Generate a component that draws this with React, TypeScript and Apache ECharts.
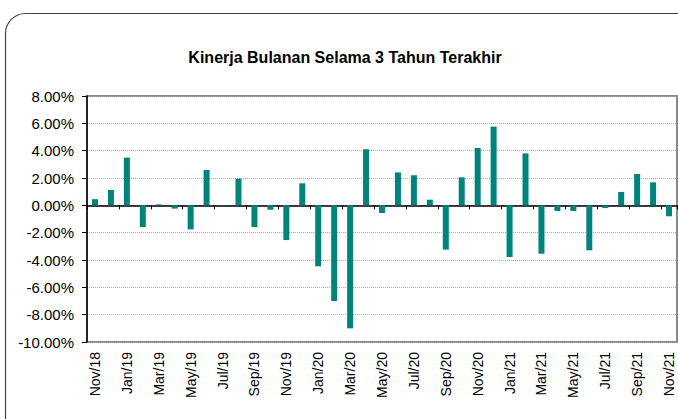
import React, { useEffect, useRef } from "react";
import * as echarts from "echarts";

const months = [
  "Nov/18", "Dec/18", "Jan/19", "Feb/19", "Mar/19", "Apr/19", "May/19", "Jun/19", "Jul/19", "Aug/19",
  "Sep/19", "Oct/19", "Nov/19", "Dec/19", "Jan/20", "Feb/20", "Mar/20", "Apr/20", "May/20", "Jun/20",
  "Jul/20", "Aug/20", "Sep/20", "Oct/20", "Nov/20", "Dec/20", "Jan/21", "Feb/21", "Mar/21", "Apr/21",
  "May/21", "Jun/21", "Jul/21", "Aug/21", "Sep/21", "Oct/21", "Nov/21",
];

const returns = [
  0.45, 1.12, 3.49, -1.59, 0.07, -0.24, -1.76, 2.59, 0.02, 1.95,
  -1.59, -0.32, -2.54, 1.61, -4.46, -7.0, -9.0, 4.1, -0.56, 2.41,
  2.2, 0.41, -3.24, 2.05, 4.2, 5.76, -3.78, 3.8, -3.54, -0.41,
  -0.41, -3.29, -0.2, 0.98, 2.29, 1.68, -0.8,
];

const titleText = "Kinerja Bulanan Selama 3 Tahun Terakhir";

const FONT = "'Liberation Sans', Arial, sans-serif";

export default function App() {
  const ref = useRef<HTMLDivElement>(null);
  useEffect(() => {
    if (!ref.current) return;
    const chart = echarts.init(ref.current, null, { renderer: "svg" });
    chart.setOption({
      animation: false,
      backgroundColor: "#ffffff",
      title: {
        text: titleText,
        left: 340,
        textAlign: "center",
        top: 44,
        textStyle: { fontFamily: FONT, fontSize: 16, fontWeight: "bold", color: "#000" },
      },
      graphic: [
        {
          type: "rect",
          shape: { x: 5.5, y: 13.5, width: 700, height: 440, r: 20 },
          style: { fill: "none", stroke: "#444", lineWidth: 1.2 },
          silent: true,
        },
      ],
      grid: {
        left: 87,
        right: 1,
        top: 96,
        bottom: 77,
        show: true,
        borderColor: "#8a8a8a",
        borderWidth: 2,
        containLabel: false,
      },
      xAxis: [
        {
          type: "category",
          data: months,
          position: "bottom",
          boundaryGap: true,
          axisLine: { show: false, onZero: false },
          axisTick: { show: false },
          axisLabel: {
            interval: 1,
            rotate: 90,
            margin: 10,
            fontSize: 14,
            fontFamily: FONT,
            color: "#000",
          },
          splitLine: { show: false },
        },
        {
          type: "category",
          data: months,
          position: "bottom",
          boundaryGap: true,
          axisLine: { show: true, onZero: true, lineStyle: { color: "#000", width: 1.5 } },
          axisTick: { show: true, interval: 1, length: 4, lineStyle: { color: "#000", width: 1 } },
          axisLabel: { show: false },
          splitLine: { show: false },
        },
      ],
      yAxis: {
        type: "value",
        min: -10,
        max: 8,
        interval: 2,
        axisLine: { show: true, lineStyle: { color: "#000", width: 1.5 } },
        axisTick: { show: true, length: 5, lineStyle: { color: "#000" } },
        axisLabel: {
          formatter: (v: number) => v.toFixed(2) + "%",
          fontSize: 15,
          fontFamily: FONT,
          color: "#000",
          margin: 13,
        },
        splitLine: { show: true, lineStyle: { color: "#aaa", type: "dotted", width: 1 } },
      },
      series: [
        {
          type: "bar",
          data: returns,
          xAxisIndex: 0,
          barWidth: 6,
          itemStyle: { color: "#00837E" },
        },
      ],
    });
    return () => chart.dispose();
  }, []);
  return (
    <div
      ref={ref}
      style={{ position: "fixed", left: 0, top: 0, width: 678, height: 419 }}
    />
  );
}
